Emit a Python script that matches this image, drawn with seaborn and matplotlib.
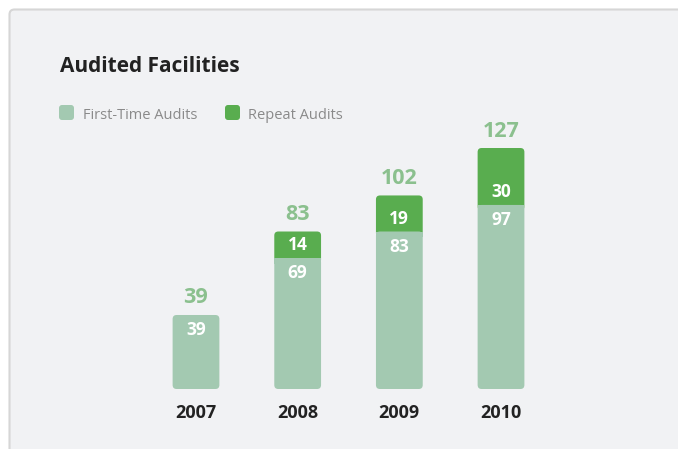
import pandas as pd
import seaborn as sns
import matplotlib.pyplot as plt
from matplotlib.patches import FancyBboxPatch, Rectangle
from matplotlib.transforms import IdentityTransform

years = ["2007", "2008", "2009", "2010"]
first_time = [39, 69, 83, 97]
repeat = [0, 14, 19, 30]
totals = [f + r for f, r in zip(first_time, repeat)]

LIGHT = "#a3c9b1"
DARK = "#59ad4f"
TOTAL_TXT = "#8bc08e"
INK = "#222222"

sns.set_theme(style="white")
plt.rcParams["font.family"] = ["Open Sans", "DejaVu Sans"]

df = pd.DataFrame({"year": years, "first": first_time, "repeat": repeat, "total": totals})

W, H = 678, 449
fig = plt.figure(figsize=(W / 100, H / 100), dpi=100)
fig.patch.set_facecolor("white")

# card background (pixel coords)
card = FancyBboxPatch((9.5, -30), 720, H - 9.5 + 30, boxstyle="round,pad=0,rounding_size=5",
                      fc="#f1f2f4", ec="#d6d6d6", lw=1.5, transform=IdentityTransform(), zorder=-1)
fig.add_artist(card)

ax = fig.add_axes([120 / W, 60 / H, 460 / W, 289 / H])
ax.patch.set_alpha(0)

sns.barplot(data=df, x="year", y="total", color=DARK, width=0.46, saturation=1, ax=ax)
sns.barplot(data=df, x="year", y="first", color=LIGHT, width=0.46, saturation=1, ax=ax)

xmin = -0.7475
xmax = xmin + 460 / 101.67
ax.set_xlim(xmin, xmax)
ax.set_ylim(0, 152.3)
px_x = 101.67
px_y = 289 / 152.3
rx = 4 / px_x
asp = px_x / px_y

bars = list(ax.patches)
dark_bars, light_bars = bars[:4], bars[4:]
for i, (db, lb) in enumerate(zip(dark_bars, light_bars)):
    x, w = lb.get_x(), lb.get_width()
    f, t = lb.get_height(), db.get_height()
    db.remove()
    lb.remove()
    if repeat[i] > 0:
        ax.add_patch(FancyBboxPatch((x, f - 3), w, t - f + 3, boxstyle=f"round,pad=0,rounding_size={rx}",
                                    mutation_aspect=asp, fc=DARK, ec="none", zorder=2))
    ax.add_patch(FancyBboxPatch((x, 0), w, f, boxstyle=f"round,pad=0,rounding_size={rx}",
                                mutation_aspect=asp, fc=LIGHT, ec="none", zorder=3))
    if repeat[i] > 0:
        ax.add_patch(Rectangle((x, f - 3), w, 3, fc=LIGHT, ec="none", zorder=3))
    cx = x + w / 2
    ax.annotate(str(totals[i]), (cx, t), xytext=(0, 17), textcoords="offset pixels",
                ha="center", va="center", color=TOTAL_TXT, fontsize=15.5, fontweight="bold")
    ax.annotate(str(first_time[i]), (cx, f), xytext=(0, -15), textcoords="offset pixels",
                ha="center", va="center", color="white", fontsize=12.5, fontweight="bold", zorder=5)
    if repeat[i] > 0:
        ax.annotate(str(repeat[i]), (cx, f), xytext=(0, 13), textcoords="offset pixels",
                    ha="center", va="center", color="white", fontsize=12.5, fontweight="bold", zorder=5)

sns.despine(ax=ax, left=True, bottom=True)
ax.set_yticks([])
ax.set_xlabel("")
ax.set_ylabel("")
ax.tick_params(axis="x", length=0, pad=11, labelsize=13, labelcolor=INK)
for lab in ax.get_xticklabels():
    lab.set_fontweight("bold")

# title
fig.text(60 / W, (H - 72) / H, "Audited Facilities", ha="left", va="baseline",
         fontsize=15, fontweight="bold", color=INK)

# legend
legend_items = [("First-Time Audits", LIGHT, 59, 83), ("Repeat Audits", DARK, 225, 248)]
for label, col, sx, tx in legend_items:
    fig.add_artist(FancyBboxPatch((sx, H - 120), 15, 15, boxstyle="round,pad=0,rounding_size=3",
                                  fc=col, ec="none", transform=IdentityTransform()))
    fig.text(tx / W, (H - 119) / H, label, ha="left", va="baseline", fontsize=10.5, color="#8a8a8a")

fig.savefig("out.png", dpi=100)
